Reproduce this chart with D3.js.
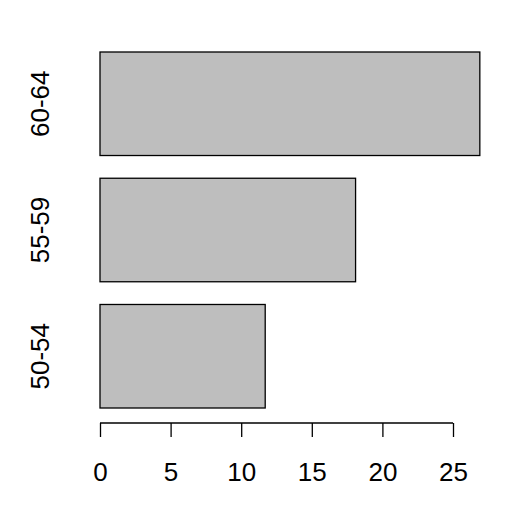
<!DOCTYPE html>
<html><head><meta charset="utf-8">
<script src="https://cdn.jsdelivr.net/npm/d3@7"></script>
<style>body{margin:0;background:#fff}</style>
</head><body>
<script>
const categories = ["50-54", "55-59", "60-64"];
const values = [11.7, 18.1, 26.9];
const ticks = [0, 5, 10, 15, 20, 25];

const svg = d3.select("body").append("svg").attr("width", 518).attr("height", 518);
const x = d3.scaleLinear().domain([0, 25]).range([100, 453]);
const y = d3.scaleBand().domain(categories.slice().reverse()).range([52, 408]).paddingInner(0.18);

svg.selectAll("rect").data(categories).join("rect")
  .attr("x", x(0)).attr("y", d => y(d))
  .attr("width", (d, i) => x(values[i]) - x(0)).attr("height", y.bandwidth())
  .attr("fill", "#bebebe").attr("stroke", "#000").attr("stroke-width", 1.3);

const ax = svg.append("g").attr("transform", "translate(0,423)")
  .call(d3.axisBottom(x).tickValues(ticks).tickSize(14).tickPadding(26));
ax.select(".domain").attr("d", `M${x(0)},0H${x(25)}`).attr("stroke-width", 1.3);
ax.selectAll(".tick line").attr("stroke-width", 1.3);
ax.selectAll("text").attr("font-family", "Liberation Sans, Arial").attr("font-size", 26).attr("fill", "#000");

svg.selectAll(".yl").data(categories).join("text")
  .attr("transform", d => `translate(40,${y(d) + y.bandwidth() / 2}) rotate(-90)`)
  .attr("text-anchor", "middle").attr("dy", "0.35em")
  .attr("font-family", "Liberation Sans, Arial").attr("font-size", 26).text(d => d);
</script>
</body></html>
